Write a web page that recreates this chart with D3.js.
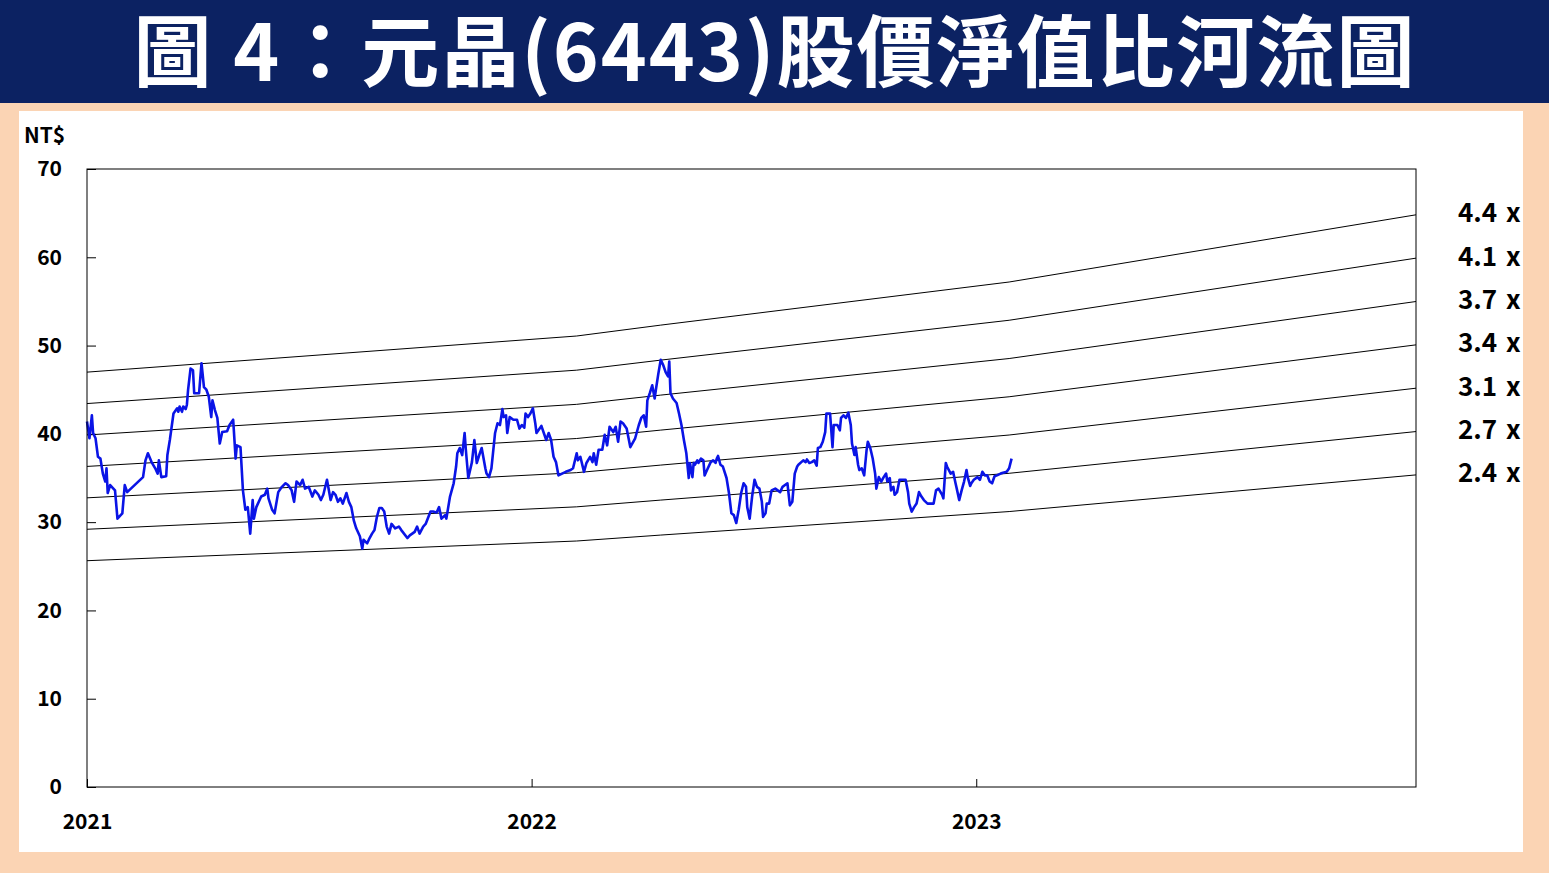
<html>
<head>
<meta charset="utf-8">
<title>元晶(6443)股價淨值比河流圖</title>
<style>
body{ margin:0; background:#fbd4b4; }
text{ font-family:"Noto Sans CJK TC","Noto Sans",sans-serif; font-weight:bold; }
.border{ fill:none; stroke:#000; stroke-width:1px; }
.band{ fill:none; stroke:#000; stroke-width:1px; }
.price{ fill:none; stroke:#0a14e6; stroke-width:2.6px; stroke-linejoin:round; }
</style>
</head>
<body>
<script src="https://cdn.jsdelivr.net/npm/d3@7/dist/d3.min.js"></script>
<script>

var width = 1549;
var height = 873;

// 每股淨值 (季度轉折)
var bvpsDates = ["2021-01-01","2022-02-07","2022-04-17","2023-01-28","2023-12-28"];
var bvpsValues = [10.68, 11.61, 11.89, 13.0, 14.73];

// 河流圖倍數
var multiples = [4.4, 4.0667, 3.7333, 3.4, 3.0667, 2.7333, 2.4];
var multipleLabels = ["4.4 x","4.1 x","3.7 x","3.4 x","3.1 x","2.7 x","2.4 x"];

var yTicks = [0,10,20,30,40,50,60,70];
var yearTicks = ["2021-01-01","2022-01-01","2023-01-01"];

// 股價
var priceDates = [
"2021-01-01","2021-01-03","2021-01-05","2021-01-06","2021-01-08","2021-01-10","2021-01-12","2021-01-14","2021-01-16","2021-01-17",
"2021-01-18","2021-01-20","2021-01-24","2021-01-26","2021-01-30","2021-02-01","2021-02-03","2021-02-16","2021-02-18","2021-02-20",
"2021-02-23","2021-02-26","2021-02-28","2021-03-01","2021-03-03","2021-03-07","2021-03-08","2021-03-10","2021-03-13","2021-03-16",
"2021-03-17","2021-03-18","2021-03-20","2021-03-21","2021-03-23","2021-03-24","2021-03-25","2021-03-27","2021-03-29","2021-03-30",
"2021-04-03","2021-04-05","2021-04-07","2021-04-09","2021-04-11","2021-04-13","2021-04-14","2021-04-16","2021-04-18","2021-04-20",
"2021-04-22","2021-04-26","2021-04-28","2021-05-01","2021-05-03","2021-05-04","2021-05-07","2021-05-09","2021-05-11","2021-05-13",
"2021-05-15","2021-05-17","2021-05-18","2021-05-20","2021-05-24","2021-05-27","2021-05-29","2021-05-30","2021-06-02","2021-06-04",
"2021-06-07","2021-06-10","2021-06-13","2021-06-15","2021-06-18","2021-06-20","2021-06-22","2021-06-25","2021-06-27","2021-06-29",
"2021-07-02","2021-07-05","2021-07-07","2021-07-10","2021-07-12","2021-07-14","2021-07-17","2021-07-20","2021-07-22","2021-07-24",
"2021-07-26","2021-07-28","2021-07-30","2021-08-02","2021-08-04","2021-08-06","2021-08-08","2021-08-10","2021-08-13","2021-08-15",
"2021-08-16","2021-08-19","2021-08-21","2021-08-23","2021-08-25","2021-08-27","2021-08-29","2021-08-31","2021-09-02","2021-09-04",
"2021-09-06","2021-09-08","2021-09-11","2021-09-14","2021-09-16","2021-09-21","2021-09-23","2021-09-27","2021-09-29","2021-10-01",
"2021-10-04","2021-10-06","2021-10-10","2021-10-12","2021-10-15","2021-10-17","2021-10-19","2021-10-22","2021-10-23","2021-10-26",
"2021-10-29","2021-10-31","2021-11-01","2021-11-03","2021-11-05","2021-11-07","2021-11-08","2021-11-10","2021-11-13","2021-11-15",
"2021-11-17","2021-11-19","2021-11-21","2021-11-24","2021-11-25","2021-11-27","2021-11-29","2021-12-02","2021-12-04","2021-12-06",
"2021-12-08","2021-12-09","2021-12-11","2021-12-12","2021-12-14","2021-12-17","2021-12-20","2021-12-22","2021-12-24","2021-12-26",
"2021-12-27","2021-12-29","2021-12-31","2022-01-02","2022-01-04","2022-01-05","2022-01-07","2022-01-09","2022-01-11","2022-01-13",
"2022-01-15","2022-01-17","2022-01-19","2022-01-21","2022-01-23","2022-01-26","2022-01-29","2022-02-02","2022-02-04","2022-02-07",
"2022-02-08","2022-02-10","2022-02-13","2022-02-15","2022-02-18","2022-02-20","2022-02-21","2022-02-23","2022-02-25","2022-02-28",
"2022-03-02","2022-03-04","2022-03-06","2022-03-09","2022-03-11","2022-03-13","2022-03-15","2022-03-17","2022-03-20","2022-03-23",
"2022-03-27","2022-03-30","2022-04-01","2022-04-03","2022-04-05","2022-04-06","2022-04-08","2022-04-10","2022-04-12","2022-04-13",
"2022-04-15","2022-04-17","2022-04-19","2022-04-21","2022-04-23","2022-04-24","2022-04-25","2022-04-27","2022-04-30","2022-05-02",
"2022-05-04","2022-05-06","2022-05-08","2022-05-10","2022-05-11","2022-05-13","2022-05-14","2022-05-15","2022-05-17","2022-05-18",
"2022-05-20","2022-05-22","2022-05-23","2022-05-25","2022-05-28","2022-05-30","2022-06-01","2022-06-02","2022-06-03","2022-06-05",
"2022-06-07","2022-06-10","2022-06-12","2022-06-14","2022-06-16","2022-06-18","2022-06-20","2022-06-22","2022-06-24","2022-06-26",
"2022-06-27","2022-06-29","2022-07-01","2022-07-03","2022-07-05","2022-07-07","2022-07-09","2022-07-10","2022-07-12","2022-07-13",
"2022-07-15","2022-07-17","2022-07-20","2022-07-22","2022-07-24","2022-07-26","2022-07-28","2022-07-30","2022-08-01","2022-08-03",
"2022-08-05","2022-08-07","2022-08-08","2022-08-12","2022-08-14","2022-08-15","2022-08-17","2022-08-19","2022-08-21","2022-08-23",
"2022-08-24","2022-08-26","2022-08-28","2022-08-30","2022-08-31","2022-09-03","2022-09-05","2022-09-06","2022-09-09","2022-09-11",
"2022-09-12","2022-09-14","2022-09-16","2022-09-18","2022-09-20","2022-09-21","2022-09-23","2022-09-24","2022-09-26","2022-09-27",
"2022-09-29","2022-10-01","2022-10-03","2022-10-04","2022-10-06","2022-10-08","2022-10-10","2022-10-11","2022-10-13","2022-10-15",
"2022-10-17","2022-10-19","2022-10-20","2022-10-22","2022-10-23","2022-10-25","2022-10-26","2022-10-28","2022-10-30","2022-11-01",
"2022-11-04","2022-11-06","2022-11-07","2022-11-09","2022-11-11","2022-11-13","2022-11-15","2022-11-17","2022-11-19","2022-11-22",
"2022-11-25","2022-11-27","2022-11-29","2022-12-01","2022-12-04","2022-12-05","2022-12-07","2022-12-08","2022-12-11","2022-12-13",
"2022-12-15","2022-12-16","2022-12-18","2022-12-20","2022-12-22","2022-12-24","2022-12-25","2022-12-27","2022-12-28","2022-12-30",
"2023-01-02","2023-01-04","2023-01-06","2023-01-08","2023-01-10","2023-01-12","2023-01-14","2023-01-16","2023-01-18","2023-01-21",
"2023-01-23","2023-01-26","2023-01-28","2023-01-30"
];
var prices = [
41.4,39.5,42.1,40.1,39.5,37.4,37.2,35.5,34.6,36.1,
33.3,34.2,33.6,30.4,31.0,34.2,33.4,35.1,37.0,37.8,
36.8,36.1,35.5,37.0,35.1,35.2,37.6,39.3,42.3,42.9,
42.5,43.1,42.5,43.1,42.8,43.3,45.0,47.4,47.2,44.6,
44.6,48.0,45.3,45.0,44.2,41.9,43.8,42.7,41.8,38.9,
40.2,40.3,41.0,41.6,37.2,38.7,38.5,33.6,31.4,31.7,
28.7,32.5,30.4,31.7,32.9,33.1,33.8,32.7,31.4,31.0,
33.4,34.0,34.4,34.2,33.6,32.3,34.6,34.2,34.8,33.8,
34.0,32.9,33.6,33.1,32.5,33.1,34.8,32.5,33.4,33.1,
32.3,32.7,32.1,33.3,32.3,31.7,30.2,29.3,28.4,27.0,
28.0,27.6,28.2,28.7,29.1,30.6,31.6,31.6,31.2,29.5,
28.7,29.8,29.3,29.5,29.1,28.2,28.5,28.9,29.5,28.7,
29.5,29.8,31.2,31.2,31.1,31.7,30.4,30.8,30.4,32.9,
34.4,36.3,37.8,38.4,37.6,40.1,38.2,35.0,36.8,39.3,
36.7,37.6,38.4,36.1,35.5,35.1,36.1,40.1,41.2,41.0,
42.8,41.9,42.1,40.1,41.9,41.6,41.6,40.6,41.0,40.7,
42.3,41.9,42.3,42.9,41.2,40.1,40.5,40.9,40.1,39.3,
40.1,39.3,37.4,36.8,35.3,35.5,35.7,35.9,36.1,37.8,
37.0,37.4,35.7,36.7,37.4,36.8,37.8,36.5,38.2,38.2,
39.9,38.7,40.8,40.2,40.8,39.1,41.4,41.2,40.6,38.5,
39.5,41.0,41.8,42.1,40.8,43.8,44.6,45.5,44.0,45.0,
46.8,48.4,47.8,47.0,46.5,48.2,44.6,44.0,43.5,42.3,
41.0,39.3,37.8,35.0,36.7,35.1,36.7,36.5,37.0,36.7,
37.2,37.0,35.3,35.9,36.8,37.0,36.7,37.2,37.5,36.5,
36.3,35.0,33.3,31.0,30.8,29.9,31.4,33.3,34.4,34.0,
31.7,30.4,32.9,34.8,34.0,33.8,32.3,30.6,31.0,32.1,
32.1,33.6,33.8,33.6,33.4,34.0,34.2,34.4,31.9,32.3,
35.5,36.3,36.5,37.0,36.8,37.1,36.7,36.8,37.0,36.4,
38.4,38.5,39.1,40.2,42.3,42.3,38.5,41.0,41.0,40.4,
41.8,42.1,41.8,42.4,41.0,38.9,37.6,38.5,36.5,35.9,
36.1,35.3,38.2,39.1,38.4,37.2,35.5,33.8,35.1,34.6,
35.1,35.5,34.6,35.0,33.6,34.0,33.1,33.4,34.8,34.8,
34.8,33.4,32.1,31.2,31.7,32.1,33.4,32.9,32.5,32.1,
32.1,32.1,33.6,33.8,33.1,32.7,36.7,36.3,35.5,35.7,
34.4,33.8,32.5,33.6,34.6,35.9,35.1,34.1,34.4,34.8,
35.1,34.8,35.7,35.3,35.3,34.6,34.4,35.2,35.3,35.5,
35.6,35.7,36.1,37.2
];

var parseDate = d3.timeParse("%Y-%m-%d");

var svg = d3.select("body").append("svg")
			.attr("width",width)
			.attr("height",height);

// 背景
svg.append("rect").attr("width",width).attr("height",height).attr("fill","#fbd4b4");
svg.append("rect").attr("width",width).attr("height",103).attr("fill","#0c2262");
svg.append("rect").attr("x",19).attr("y",111).attr("width",1504).attr("height",741).attr("fill","#ffffff");

// 標題
svg.append("text")
	.attr("x",775)
	.attr("y",47)
	.attr("text-anchor","middle")
	.attr("dominant-baseline","central")
	.attr("fill","#ffffff")
	.style("font-size","78px")
	.style("letter-spacing","2px")
	.text("圖 4：元晶(6443)股價淨值比河流圖");

var plot = {left:87, right:1416, top:169, bottom:787};

var x = d3.scaleTime()
		.domain([parseDate("2021-01-01"), parseDate("2023-12-28")])
		.range([plot.left, plot.right]);

var y = d3.scaleLinear()
		.domain([0,70])
		.range([plot.bottom, plot.top]);

// 坐標軸
var yAxis = d3.axisLeft(y)
		.tickValues(yTicks)
		.tickSizeInner(-9)
		.tickSizeOuter(0)
		.tickPadding(25);

var gy = svg.append("g")
		.attr("transform","translate(" + plot.left + ",0)")
		.call(yAxis);

var xAxis = d3.axisBottom(x)
		.tickValues(yearTicks.map(parseDate))
		.tickFormat(d3.timeFormat("%Y"))
		.tickSizeInner(-8)
		.tickSizeOuter(0)
		.tickPadding(27);

var gx = svg.append("g")
		.attr("transform","translate(0," + plot.bottom + ")")
		.call(xAxis);

[gx, gy].forEach(function(g){
	g.select(".domain").remove();
	g.selectAll(".tick line").attr("stroke","#000");
	g.selectAll(".tick text")
		.attr("fill","#000")
		.style("font-size","21px")
		.style("font-family","'Noto Sans CJK TC',sans-serif")
		.style("font-weight","bold");
});

svg.append("text")
	.attr("x",24)
	.attr("y",143)
	.attr("fill","#000")
	.style("font-size","21px")
	.text("NT$");

// 河流線
var bvps = bvpsDates.map(function(d,i){ return {date: parseDate(d), value: bvpsValues[i]}; });

var bandLine = d3.line()
		.x(function(d){ return x(d.date); })
		.y(function(d){ return y(d.value); });

svg.selectAll(".band")
	.data(multiples)
	.enter()
	.append("path")
	.attr("class","band")
	.attr("d",function(m){
		return bandLine(bvps.map(function(b){ return {date: b.date, value: b.value * m}; }));
	});

var lastBvps = bvps[bvps.length - 1].value;

svg.selectAll(".bandLabel")
	.data(multiples)
	.enter()
	.append("text")
	.attr("class","bandLabel")
	.attr("x",1458)
	.attr("y",function(m){ return y(m * lastBvps) - 4; })
	.attr("dominant-baseline","central")
	.attr("fill","#000")
	.style("font-size","26px")
	.style("word-spacing","3px")
	.text(function(m,i){ return multipleLabels[i]; });

// 股價線
var priceData = priceDates.map(function(d,i){ return {date: parseDate(d), value: prices[i]}; });

svg.append("path")
	.datum(priceData)
	.attr("class","price")
	.attr("d",bandLine);

// 外框
svg.append("rect")
	.attr("class","border")
	.attr("x",plot.left)
	.attr("y",plot.top)
	.attr("width",plot.right - plot.left)
	.attr("height",plot.bottom - plot.top);

</script>
</body>
</html>
